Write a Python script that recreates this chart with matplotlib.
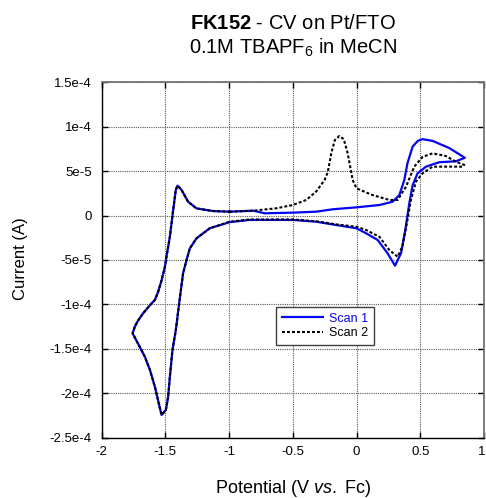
import matplotlib
matplotlib.use("Agg")
import matplotlib.pyplot as plt
import matplotlib.transforms as mtransforms

plt.rcParams['font.family'] = ['Liberation Sans', 'DejaVu Sans']
plt.rcParams['mathtext.fontset'] = 'custom'
plt.rcParams['mathtext.rm'] = 'Liberation Sans'
plt.rcParams['mathtext.it'] = 'Liberation Sans:italic'
plt.rcParams['mathtext.bf'] = 'Liberation Sans:bold'

# ---------------- data (potential in V vs Fc, current in A) ----------------
scan1_v = [-0.995, -0.81, -0.72, -0.5, -0.316, -0.186, 0.0, 0.18, 0.283, 0.336,
           0.375, 0.40, 0.44, 0.48, 0.518, 0.597, 0.727, 0.85, 0.779, 0.649,
           0.545, 0.479, 0.44, 0.414, 0.383, 0.349, 0.302, 0.244, 0.166, 0.075,
           0.0, -0.16, -0.316, -0.5, -0.84, -0.995, -1.151, -1.255, -1.307, -1.333,
           -1.36, -1.391, -1.417, -1.443, -1.464, -1.477, -1.495, -1.529, -1.542, -1.581,
           -1.62, -1.66, -1.70, -1.756, -1.738, -1.712, -1.673, -1.62, -1.581, -1.556,
           -1.529, -1.503, -1.49, -1.464, -1.438, -1.417, -1.404, -1.373, -1.321, -1.255,
           -1.125, -0.995]
scan1_i = [4.3e-6, 5.4e-6, 2.5e-6, 3.2e-6, 4.3e-6, 7e-6, 9.2e-6, 1.18e-5, 1.55e-5, 2.3e-5,
           4.0e-5, 5.9e-5, 7.75e-5, 8.4e-5, 8.6e-5, 8.4e-5, 7.6e-5, 6.5e-5, 6.1e-5, 6.0e-5,
           5.5e-5, 4.75e-5, 3.4e-5, 1.37e-5, -1.6e-5, -4.26e-5, -5.65e-5, -4.26e-5, -2.76e-5, -2.0e-5,
           -1.44e-5, -1.07e-5, -7e-6, -5e-6, -5e-6, -7.5e-6, -1.44e-5, -2.57e-5, -3.7e-5, -5e-5,
           -6.5e-5, -9.9e-5, -1.29e-4, -1.51e-4, -1.82e-4, -2.04e-4, -2.19e-4, -2.246e-4, -2.17e-4, -1.93e-4,
           -1.74e-4, -1.59e-4, -1.48e-4, -1.327e-4, -1.25e-4, -1.18e-4, -1.1e-4, -1.01e-4, -9.5e-5, -8.6e-5,
           -7.3e-5, -5.8e-5, -4.6e-5, -2.4e-5, 6e-6, 2.9e-5, 3.36e-5, 2.9e-5, 1.55e-5, 8e-6,
           5e-6, 4.3e-6]

scan2_v = [-0.995, -0.81, -0.76, -0.63, -0.5, -0.394, -0.316, -0.25, -0.225, -0.198,
           -0.17, -0.134, -0.10, -0.069, -0.03, 0.0, 0.075, 0.127, 0.258, 0.323,
           0.388, 0.453, 0.518, 0.597, 0.70, 0.78, 0.845, 0.83, 0.70, 0.597,
           0.518, 0.466, 0.427, 0.40, 0.36, 0.323, 0.258, 0.18, 0.075, 0.0,
           -0.16, -0.316, -0.5, -0.84, -0.995, -1.151, -1.255, -1.307, -1.333, -1.36,
           -1.391, -1.417, -1.443, -1.464, -1.477, -1.495, -1.529, -1.542, -1.581, -1.62,
           -1.66, -1.70, -1.756, -1.738, -1.712, -1.673, -1.62, -1.581, -1.556, -1.529,
           -1.503, -1.49, -1.464, -1.438, -1.417, -1.404, -1.373, -1.321, -1.255, -1.125,
           -0.995]
scan2_i = [4.3e-6, 5.4e-6, 6.2e-6, 8.1e-6, 1.18e-5, 1.75e-5, 2.7e-5, 4.0e-5, 4.9e-5, 7e-5,
           8.5e-5, 8.95e-5, 8.6e-5, 7e-5, 4e-5, 3.06e-5, 2.6e-5, 2.3e-5, 1.75e-5, 1.75e-5,
           3.24e-5, 5.5e-5, 6.6e-5, 7.0e-5, 6.7e-5, 6.06e-5, 5.7e-5, 5.5e-5, 5.5e-5, 5.5e-5,
           4.75e-5, 3.8e-5, 1.75e-5, -5e-6, -3.5e-5, -4.64e-5, -3.9e-5, -2.4e-5, -1.63e-5, -1.26e-5,
           -1.0e-5, -6.5e-6, -4.5e-6, -4.5e-6, -7e-6, -1.44e-5, -2.57e-5, -3.7e-5, -5e-5, -6.5e-5,
           -9.9e-5, -1.29e-4, -1.51e-4, -1.82e-4, -2.04e-4, -2.19e-4, -2.246e-4, -2.17e-4, -1.93e-4, -1.74e-4,
           -1.59e-4, -1.48e-4, -1.327e-4, -1.25e-4, -1.18e-4, -1.1e-4, -1.01e-4, -9.5e-5, -8.6e-5, -7.3e-5,
           -5.8e-5, -4.6e-5, -2.4e-5, 6e-6, 2.9e-5, 3.36e-5, 2.9e-5, 1.55e-5, 8e-6, 5e-6,
           4.3e-6]

x_ticks = [-2, -1.5, -1, -0.5, 0, 0.5, 1]
x_tick_labels = ["-2", "-1.5", "-1", "-0.5", "0", "0.5", "1"]
y_ticks = [1.5e-4, 1e-4, 5e-5, 0, -5e-5, -1e-4, -1.5e-4, -2e-4, -2.5e-4]
y_tick_labels = ["1.5e-4", "1e-4", "5e-5", "0", "-5e-5", "-1e-4", "-1.5e-4", "-2e-4", "-2.5e-4"]
series_labels = ["Scan 1", "Scan 2"]

# ---------------- figure ----------------
W, H = 486, 498
fig = plt.figure(figsize=(W / 100, H / 100), dpi=100)
ax_left, ax_right, ax_top, ax_bot = 101.5, 484, 82.3, 437.5
ax = fig.add_axes([ax_left / W, 1 - ax_bot / H, (ax_right - ax_left) / W, (ax_bot - ax_top) / H])

blue = '#0505f0'
ax.plot(scan1_v, scan1_i, color=blue, lw=1.6, zorder=3, label=series_labels[0])
ax.plot(scan2_v, scan2_i, color='black', lw=1.5, ls=(0, (1.4, 1.0)), zorder=4,
        label=series_labels[1])

ax.set_xlim(-2, 1)
ax.set_ylim(-2.5e-4, 1.5e-4)
ax.set_xticks(x_ticks)
ax.set_xticklabels(x_tick_labels)
ax.set_yticks(y_ticks)
ax.set_yticklabels(y_tick_labels)
ax.tick_params(direction='in', length=4, width=1, labelsize=9.5, top=True, right=True)
ax.tick_params(axis='y', pad=7)
ax.tick_params(axis='x', pad=6)
for t in ax.xaxis.get_ticklines()[1::2] + ax.yaxis.get_ticklines()[1::2]:
    t.set_color('0.45')
# nudge the last x tick label slightly left so it stays inside the canvas
last = ax.get_xticklabels()[-1]
last.set_transform(last.get_transform() + mtransforms.ScaledTranslation(-2.5 / 100, 0, fig.dpi_scale_trans))

ax.grid(True, ls=(0, (1, 1)), color='0.35', lw=0.8)
ax.set_axisbelow(True)

for s in ['left', 'bottom']:
    ax.spines[s].set_color('black')
    ax.spines[s].set_linewidth(1.0)
for s in ['top', 'right']:
    ax.spines[s].set_color('0.45')
    ax.spines[s].set_linewidth(1.3)

leg = ax.legend(loc='center', bbox_to_anchor=(0.584, 0.314), fontsize=9, fancybox=False,
                framealpha=1, edgecolor='0.25', handlelength=3.3, handletextpad=0.5,
                borderpad=0.45, labelspacing=0.2, borderaxespad=0)
leg.get_frame().set_linewidth(1.0)
leg.get_texts()[0].set_color(blue)
leg.get_texts()[1].set_color('black')

cx = (ax_left + ax_right) / 2 / W
fig.text(cx, 1 - 29 / H, r"$\mathbf{FK152}$ - CV on Pt/FTO", ha='center', va='baseline', fontsize=14.5)
fig.text(cx, 1 - 54 / H, r"0.1M TBAPF$_6$ in MeCN", ha='center', va='baseline', fontsize=14.5)

fig.text(cx, 1 - 493 / H, r"Potential (V $\mathit{vs.}$ Fc)", ha='center', va='baseline', fontsize=13)
fig.text(21 / W, 1 - 259 / H, "Current (A)", rotation=90, ha='center', va='center', fontsize=12)

fig.savefig("out.png", dpi=100)
